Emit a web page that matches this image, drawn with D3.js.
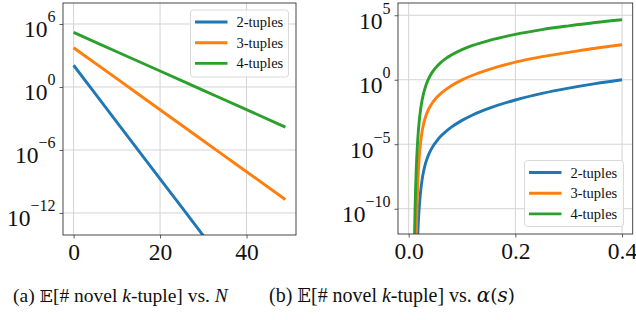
<!DOCTYPE html>
<html lang="en">
<head>
    <meta charset="UTF-8">
    <title>novel k-tuples</title>
    <style>
        body{
            margin:0;
            background:#fff;
        }
        svg text{
            font-family:"Liberation Serif","Times New Roman",serif;
        }
    </style>
    <script src="https://cdn.jsdelivr.net/npm/d3@7/dist/d3.min.js"></script>
</head>
<body>
<div id="container"></div>
</body>
<script>

var w = 636;
var h = 320;

var seriesNames = ["2-tuples", "3-tuples", "4-tuples"];
var colors = ["#1f77b4", "#ff7f0e", "#2ca02c"];

// panel (a): x = N, values are log10 of the expected count
var nValues = [0, 10, 20, 30, 40, 49];
var twoTuplesN = [2.07, -3.34, -8.75, -14.16, -19.57, -24.4];
var threeTuplesN = [3.74, 0.79, -2.17, -5.12, -8.07, -10.73];
var fourTuplesN = [5.2, 3.36, 1.52, -0.32, -2.16, -3.82];

// panel (b): x = alpha(s), values are log10 of the expected count
var alphaValues = [0.010, 0.011, 0.012, 0.013, 0.014, 0.015, 0.016, 0.017, 0.018, 0.019, 0.020,
    0.022, 0.025, 0.028, 0.032, 0.036, 0.04, 0.045, 0.05, 0.06, 0.07, 0.08,
    0.1, 0.12, 0.15, 0.2, 0.25, 0.3, 0.35, 0.4];
var twoTuplesA = [-33.2, -26.8, -22.3, -19.0, -16.55, -14.7, -13.25, -12.1, -11.18, -10.43, -9.81,
    -8.82, -7.80, -7.09, -6.43, -5.95, -5.57, -5.19, -4.89, -4.39, -4.01, -3.68,
    -3.15, -2.73, -2.22, -1.57, -1.06, -0.65, -0.30, 0.0];
var threeTuplesA = [-31.0, -23.7, -18.8, -15.3, -12.7, -10.8, -9.32, -8.17, -7.26, -6.52, -5.91,
    -5.00, -4.05, -3.42, -2.83, -2.41, -2.08, -1.76, -1.49, -1.08, -0.75, -0.47,
    -0.01, 0.35, 0.79, 1.36, 1.79, 2.12, 2.44, 2.71];
var fourTuplesA = [-14.65, -11.99, -9.98, -8.42, -7.18, -6.17, -5.34, -4.65, -4.06, -3.57, -3.13,
    -2.42, -1.63, -1.05, -0.48, -0.05, 0.29, 0.63, 0.90, 1.33, 1.66, 1.91,
    2.33, 2.66, 3.04, 3.52, 3.89, 4.18, 4.44, 4.65];

var leftXTicks = [0, 20, 40];
var leftXLabels = ["0", "20", "40"];
var leftYTicks = [6, 0, -6, -12];
var rightXTicks = [0, 0.2, 0.4];
var rightXLabels = ["0.0", "0.2", "0.4"];
var rightYTicks = [5, 0, -5, -10];

var svg = d3.select("#container")
        .append("svg")
        .attr("width", w)
        .attr("height", h);

function drawPanel(id, box, xDomain, yDomain, xs, series, xTicks, xLabels, yTicks, legendBox) {
    var xScale = d3.scaleLinear().domain(xDomain).range([box.x0, box.x1]);
    var yScale = d3.scaleLog().domain(yDomain.map(function (e) { return Math.pow(10, e); }))
            .range([box.y1, box.y0]);

    var g = svg.append("g");

    // grid
    g.selectAll(".gx").data(xTicks).enter().append("line")
            .attr("x1", function (d) { return xScale(d); })
            .attr("x2", function (d) { return xScale(d); })
            .attr("y1", box.y0).attr("y2", box.y1)
            .attr("stroke", "#d4d4d4").attr("stroke-width", 1);
    g.selectAll(".gy").data(yTicks).enter().append("line")
            .attr("x1", box.x0).attr("x2", box.x1)
            .attr("y1", function (d) { return yScale(Math.pow(10, d)); })
            .attr("y2", function (d) { return yScale(Math.pow(10, d)); })
            .attr("stroke", "#d4d4d4").attr("stroke-width", 1);

    // lines
    g.append("clipPath").attr("id", id).append("rect")
            .attr("x", box.x0).attr("y", box.y0)
            .attr("width", box.x1 - box.x0).attr("height", box.y1 - box.y0);

    var line = d3.line()
            .x(function (d) { return xScale(d[0]); })
            .y(function (d) { return yScale(Math.pow(10, d[1])); })
            .curve(d3.curveMonotoneX);

    g.append("g").attr("clip-path", "url(#" + id + ")")
            .selectAll("path")
            .data(series)
            .enter()
            .append("path")
            .attr("d", function (s) {
                return line(xs.map(function (x, i) { return [x, s[i]]; }));
            })
            .attr("fill", "none")
            .attr("stroke", function (d, i) { return colors[i]; })
            .attr("stroke-width", 2.9);

    // axes
    var xAxis = d3.axisBottom(xScale).tickValues(xTicks).tickSize(3.5)
            .tickFormat(function (d, i) { return xLabels[i]; });
    var gx = g.append("g").attr("transform", "translate(0," + box.y1 + ")").call(xAxis);
    gx.select(".domain").remove();
    gx.selectAll("line").attr("stroke", "#333").attr("stroke-width", 0.8);
    gx.selectAll("text")
            .attr("y", 8.3)
            .attr("dy", "0.71em")
            .attr("font-size", "23.5px")
            .attr("fill", "#111")
            .style("font-family", "'Liberation Serif', serif");

    var yAxis = d3.axisLeft(yScale)
            .tickValues(yTicks.map(function (e) { return Math.pow(10, e); }))
            .tickSize(3.5).tickFormat("");
    var gy = g.append("g").attr("transform", "translate(" + box.x0 + ",0)").call(yAxis);
    gy.select(".domain").remove();
    gy.selectAll("line").attr("stroke", "#333").attr("stroke-width", 0.8);

    yTicks.forEach(function (e) {
        var yy = yScale(Math.pow(10, e));
        var exp = e < 0 ? "\u2212" + Math.abs(e) : String(e);
        var t = g.append("text")
                .attr("x", box.x0 - 7.5)
                .attr("y", yy + 13.3)
                .attr("text-anchor", "end")
                .attr("font-size", "23.5px")
                .attr("fill", "#111");
        t.append("tspan").text("10");
        t.append("tspan").attr("font-size", "16px").attr("dy", -14.8).text(exp);
    });

    // frame
    g.append("rect")
            .attr("x", box.x0).attr("y", box.y0)
            .attr("width", box.x1 - box.x0).attr("height", box.y1 - box.y0)
            .attr("fill", "none").attr("stroke", "#333").attr("stroke-width", 0.9);

    // legend
    var lg = g.append("g");
    lg.append("rect")
            .attr("x", legendBox.x).attr("y", legendBox.y)
            .attr("width", legendBox.w).attr("height", legendBox.h)
            .attr("rx", 3)
            .attr("fill", "#fff").attr("fill-opacity", 0.8)
            .attr("stroke", "#d9d9d9").attr("stroke-width", 1);
    seriesNames.forEach(function (name, i) {
        var yy = legendBox.y + 12 + i * 20.7;
        lg.append("line")
                .attr("x1", legendBox.x + 4.5).attr("x2", legendBox.x + 37)
                .attr("y1", yy).attr("y2", yy)
                .attr("stroke", colors[i]).attr("stroke-width", 2.9);
        lg.append("text")
                .attr("x", legendBox.x + 46)
                .attr("y", yy + 5)
                .attr("font-size", "14.5px")
                .attr("fill", "#111")
                .text(name);
    });
}

drawPanel("clipA", {x0: 63, x1: 296, y0: 3, y1: 235}, [-2.45, 51.45], [-14.1, 8], nValues,
        [twoTuplesN, threeTuplesN, fourTuplesN], leftXTicks, leftXLabels, leftYTicks,
        {x: 190.5, y: 10, w: 98, h: 67});

drawPanel("clipB", {x0: 398, x1: 632.7, y0: 3, y1: 234}, [-0.02, 0.42], [-11.96, 5.95], alphaValues,
        [twoTuplesA, threeTuplesA, fourTuplesA], rightXTicks, rightXLabels, rightYTicks,
        {x: 524.5, y: 160.5, w: 99, h: 66});

// captions, scaled so each one spans the same width as in the figure
var mathFont = "'DejaVu Serif','Liberation Serif',serif";

function caption(x, x1, label, tail) {
    var fs = 19.5;
    var t = svg.append("text")
            .attr("x", x)
            .attr("y", 301.5)
            .attr("font-size", fs + "px")
            .attr("fill", "#111");
    t.append("tspan").text(label + " ");
    t.append("tspan").style("font-family", "'DejaVu Serif','DejaVu Sans',serif")
            .attr("font-size", "0.9em").text("\uD835\uDD3C");
    t.append("tspan").text("[# novel ");
    t.append("tspan").attr("font-style", "italic").text("k");
    t.append("tspan").text("-tuple] vs. ");
    tail(t);
    var len = t.node().getComputedTextLength();
    if (len > 0) {
        t.attr("font-size", (fs * (x1 - x) / len) + "px");
    }
}

caption(13, 228, "(a)", function (t) {
    t.append("tspan").attr("font-style", "italic").text("N");
});
caption(269, 515, "(b)", function (t) {
    t.append("tspan").attr("font-style", "italic").style("font-family", mathFont).text("\u03B1");
    t.append("tspan").style("font-family", mathFont).attr("font-size", "0.92em").text("(");
    t.append("tspan").attr("font-style", "italic").style("font-family", mathFont).text("s");
    t.append("tspan").style("font-family", mathFont).attr("font-size", "0.92em").text(")");
});

</script>

</html>
